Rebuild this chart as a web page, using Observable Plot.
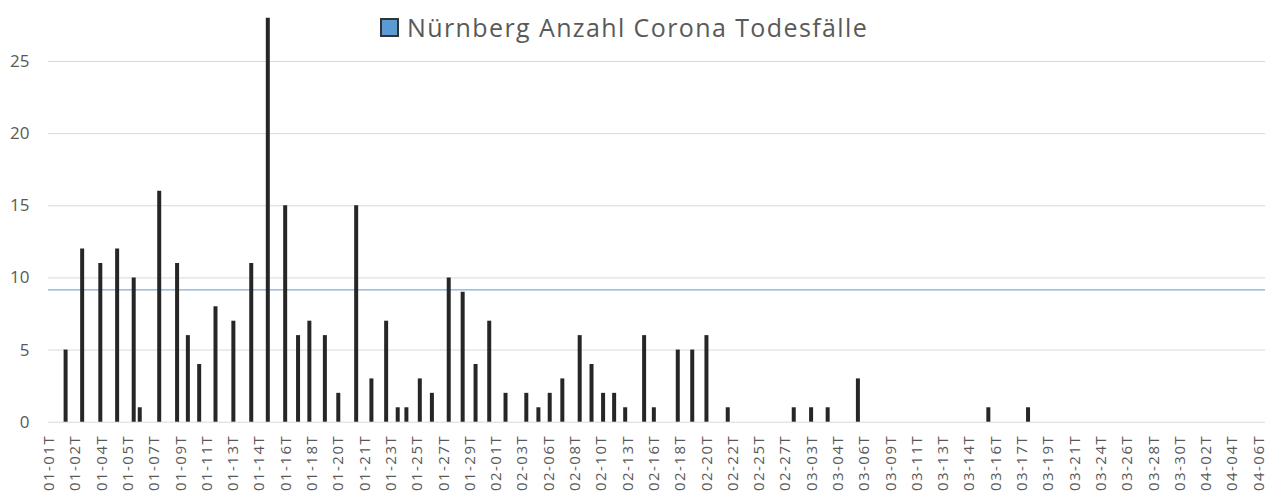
<!DOCTYPE html>
<html><head><meta charset="utf-8">
<script src="https://cdn.jsdelivr.net/npm/d3@7"></script>
<script src="https://cdn.jsdelivr.net/npm/@observablehq/plot@0.6"></script>
<style>
body{margin:0;background:#fff;}
#wrap{position:relative;width:1272px;height:497px;font-family:"Open Sans",sans-serif;}
#legend{position:absolute;left:380px;top:12px;display:flex;align-items:center;color:#595959;font-size:25px;line-height:30px;letter-spacing:1.4px;white-space:nowrap;}
#legend .sw{display:inline-block;width:15px;height:15px;background:#5b9bd5;border:2px solid #333;margin-right:8px;}
</style></head><body>
<div id="wrap"><div id="legend"><span class="sw"></span><span id="legendText"></span></div></div>
<script>
const seriesName = "Nürnberg Anzahl Corona Todesfälle";
const tickLabels = ["01-01T","01-02T","01-04T","01-05T","01-07T","01-09T","01-11T","01-13T","01-14T","01-16T","01-18T","01-20T","01-21T","01-23T","01-25T","01-27T","01-29T","02-01T","02-03T","02-06T","02-08T","02-10T","02-13T","02-16T","02-18T","02-20T","02-22T","02-25T","02-27T","03-03T","03-04T","03-06T","03-09T","03-11T","03-13T","03-14T","03-16T","03-17T","03-19T","03-21T","03-24T","03-26T","03-28T","03-30T","04-02T","04-04T","04-06T"];
// bar position along the category axis, in label-interval units (estimated)
const barSlot = [0.62,1.25,1.94,2.58,3.21,3.44,4.18,4.86,5.27,5.70,6.32,7.00,7.68,8.31,8.97,9.46,9.89,10.48,10.99,11.67,12.25,12.81,13.25,13.58,14.09,14.55,15.19,15.72,16.21,16.73,17.35,18.14,18.60,19.03,19.51,20.17,20.62,21.06,21.48,21.90,22.62,22.99,23.90,24.45,24.99,25.80,28.31,28.97,29.60,30.75,35.71,37.22];
const deaths = [5,12,11,12,10,1,16,11,6,4,8,7,11,28,15,6,7,6,2,15,3,7,1,1,3,2,10,9,4,7,2,2,1,2,3,6,4,2,2,1,6,1,5,5,6,1,1,1,1,3,1,1];
const referenceLevel = 9.17;
const yTicks = [0,5,10,15,20,25];

document.getElementById("legendText").textContent = seriesName;
const rows = deaths.map((v,i)=>({slot: barSlot[i], v}));
const tickIdx = d3.range(tickLabels.length);

const chart = Plot.plot({
  width:1272, height:497,
  marginLeft:48, marginRight:7, marginTop:17.7, marginBottom:75.3,
  style:{fontFamily:"'Open Sans', sans-serif", background:"transparent"},
  x:{domain:[-0.03,46.25]},
  y:{domain:[0,28]},
  marks:[
    Plot.ruleY(yTicks,{stroke:"#d9d9d9", strokeWidth:1}),
    Plot.ruleY([referenceLevel],{stroke:"#5b9bd5", strokeWidth:1}),
    Plot.ruleX(rows,{x:"slot", y1:0, y2:"v", stroke:"#262626", strokeWidth:4}),
    Plot.axisY({ticks:yTicks, tickSize:0, tickPadding:19, fontSize:17, fill:"#595959", label:null}),
    Plot.axisX({ticks:tickIdx, tickFormat:i=>tickLabels[i], tickRotate:-90, tickSize:0, tickPadding:12.5, fontSize:15, fill:"#595959", label:null})
  ]
});
chart.style.position="absolute"; chart.style.left="0"; chart.style.top="0";
d3.select(chart).selectAll('g[aria-label="x-axis tick label"] text').attr("letter-spacing","1.5px");
document.getElementById("wrap").insertBefore(chart, document.getElementById("legend"));
</script>
</body></html>
